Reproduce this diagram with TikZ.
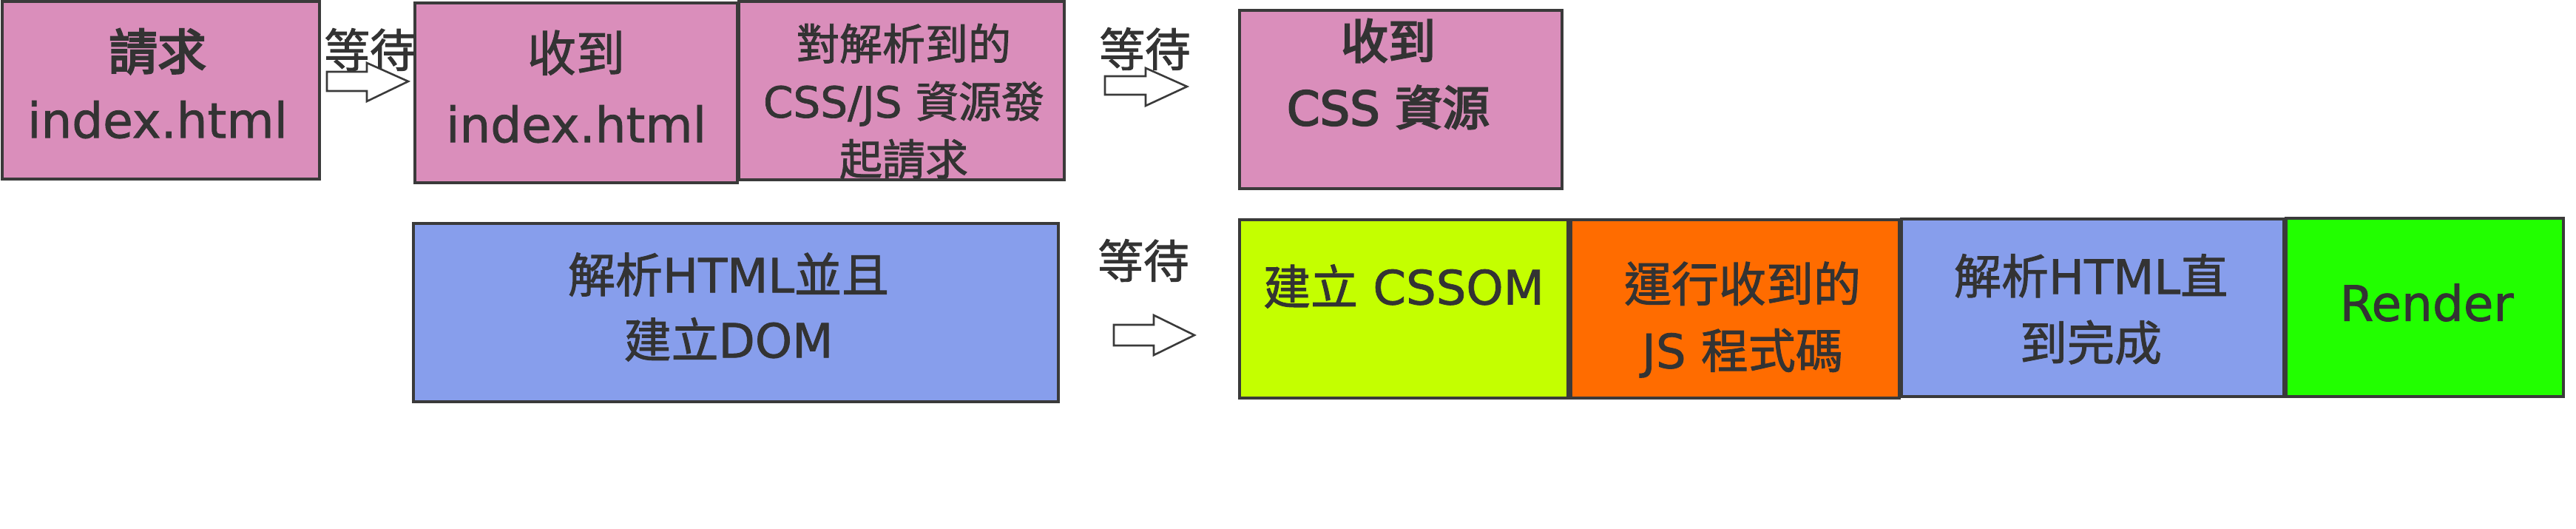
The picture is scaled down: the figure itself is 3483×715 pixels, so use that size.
\documentclass[tikz,border=0pt]{standalone}
\usepackage{fontspec}
\setmainfont{DejaVu Sans}[FakeBold=1.2]
\newfontfamily\cjk{Noto Sans CJK TC}[FakeBold=1.5]
\newfontfamily\cjkb{Noto Sans CJK TC}[FakeBold=3.5]
\newfontfamily\latb{DejaVu Sans}[FakeBold=3]
\usetikzlibrary{fit}
\definecolor{pinkbox}{HTML}{DA8EBB}
\definecolor{bluebox}{HTML}{879EEC}
\definecolor{limebox}{HTML}{C4FF00}
\definecolor{orangebox}{HTML}{FF6C00}
\definecolor{greenbox}{HTML}{22FF00}
\definecolor{edge}{HTML}{3A3A3A}
\definecolor{ink}{HTML}{333333}
\newcommand{\mainfs}{\fontsize{32pt}{45pt}\selectfont}
\begin{document}
\begin{tikzpicture}[x=0.5pt,y=-0.5pt,
  box/.style={draw=edge, line width=2pt, inner sep=0pt},
  lbl/.style={text=ink, align=center, inner sep=0pt, font=\mainfs},
  barrow/.style={draw=edge, line width=1.3pt, fill=white, line join=miter}]
\useasboundingbox (0,0) rectangle (3483,715);
% top row boxes
\node[box, fill=pinkbox, fit={(3,2)(432,242)}] (b1) {};
\node[box, fill=pinkbox, fit={(561,4)(997,247)}] (b2) {};
\node[box, fill=pinkbox, fit={(999,2)(1439,243)}] (b3) {};
\node[box, fill=pinkbox, fit={(1676,14)(2112,255)}] (b4) {};
% bottom row boxes
\node[box, fill=bluebox, fit={(559,302)(1431,543)}] (b5) {};
\node[box, fill=limebox, fit={(1676,297)(2120,538)}] (b6) {};
\node[box, fill=orangebox, fit={(2124,297)(2568,538)}] (b7) {};
\node[box, fill=bluebox, fit={(2571,296)(3088,536)}] (b8) {};
\node[box, fill=greenbox, fit={(3091,295)(3466,536)}] (b9) {};
% texts
\node[lbl, font=\fontsize{33pt}{46pt}\selectfont] (t1) at (213,113) {{\cjkb 請求}\\index.html};
\node[lbl, font=\fontsize{33pt}{48pt}\selectfont] (t2) at (779,117) {{\cjk 收到}\\index.html};
\node[lbl, font=\fontsize{29pt}{39pt}\selectfont] (t3) at (1222,137) {{\cjk 對解析到的}\\CSS/JS {\cjk 資源發}\\{\cjk 起請求}};
\node[lbl] (t4) at (1877,100) {{\cjkb 收到}\\{\latb CSS} {\cjkb 資源}};
\node[lbl, font=\fontsize{32pt}{44pt}\selectfont] (t5) at (985,415) {{\cjk 解析}HTML{\cjk 並且}\\{\cjk 建立}DOM};
\node[lbl] (t6) at (1898,387) {{\cjk 建立} CSSOM};
\node[lbl] (t7) at (2356,432) {{\cjk 運行收到的}\\JS {\cjk 程式碼}};
\node[lbl] (t8) at (2827,418) {{\cjk 解析}HTML{\cjk 直}\\{\cjk 到完成}};
\node[lbl, font=\fontsize{33pt}{45pt}\selectfont] (t9) at (3281,409) {Render};
% wait labels
\node[lbl, font=\fontsize{31pt}{40pt}\selectfont] (w1) at (500,67) {\cjk 等待};
\node[lbl, font=\fontsize{31pt}{40pt}\selectfont] (w2) at (1548,66) {\cjk 等待};
\node[lbl, font=\fontsize{31pt}{40pt}\selectfont] (w3) at (1546,352) {\cjk 等待};
% block arrows
\draw[barrow] (442,97) -- (496,97) -- (496,85) -- (552,110) -- (496,137) -- (496,123) -- (442,123) -- cycle;
\draw[barrow] (1494,103) -- (1549,103) -- (1549,92) -- (1605,117) -- (1549,143) -- (1549,128) -- (1494,128) -- cycle;
\draw[barrow] (1506,439) -- (1560,439) -- (1560,426) -- (1615,453) -- (1560,480) -- (1560,467) -- (1506,467) -- cycle;
\end{tikzpicture}
\end{document}
